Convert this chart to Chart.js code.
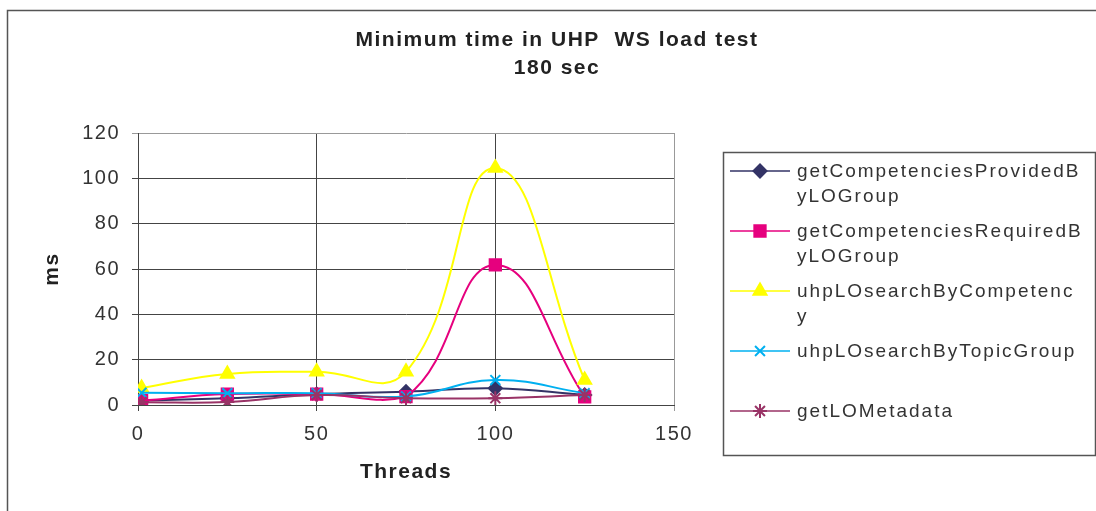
<!DOCTYPE html>
<html>
<head>
<meta charset="utf-8">
<script src="https://cdn.jsdelivr.net/npm/chart.js@4.4.1/dist/chart.umd.min.js"></script>
<style>
  html, body { margin: 0; padding: 0; background: #fff; }
</style>
</head>
<body>
<canvas id="myChart" width="1096" height="511"></canvas>
<script>
threads = [1, 25, 50, 75, 100, 125];

providedByLOGroup = [2, 3, 4.8, 5.9, 7.4, 4.4];
requiredByLOGroup = [1.9, 4.8, 4.8, 3.7, 61.8, 3.6];
searchByCompetency = [7.5, 13.7, 14.7, 14.7, 104.6, 11];
searchByTopicGroup = [5.4, 5.2, 5.2, 3.8, 11, 5.2];
loMetadata = [1.2, 1.3, 4.4, 3, 3, 4.4];

seriesNames = [
  "getCompetenciesProvidedByLOGroup",
  "getCompetenciesRequiredByLOGroup",
  "uhpLOsearchByCompetency",
  "uhpLOsearchByTopicGroup",
  "getLOMetadata"
];

titleLines = ["Minimum time in UHP  WS load test", "180 sec"];

const FONT = '"Liberation Sans", Arial, sans-serif';
const SPACING = '1.5px';

function points(ys) {
  return ys.map((y, i) => ({x: threads[i], y: y}));
}

// split a label into lines by characters, like the old excel legend
function wrapText(ctx, text, maxW) {
  const lines = [];
  let cur = '';
  for (const ch of text) {
    if (cur && ctx.measureText(cur + ch).width > maxW) {
      lines.push(cur);
      cur = ch;
    } else {
      cur += ch;
    }
  }
  lines.push(cur);
  return lines;
}

const frame = {
  id: 'frame',
  beforeLayout(chart) {
    chart.ctx.letterSpacing = SPACING;
  },
  beforeDraw(chart) {
    const ctx = chart.ctx;
    ctx.letterSpacing = SPACING;
    ctx.save();
    ctx.fillStyle = '#fff';
    ctx.fillRect(0, 0, chart.width, chart.height);
    ctx.strokeStyle = '#555';
    ctx.lineWidth = 1.5;
    ctx.strokeRect(7.5, 10.5, 1300, 700);
    ctx.restore();
  }
};

const legendBox = {
  id: 'legendBox',
  afterDraw(chart) {
    const ctx = chart.ctx;
    ctx.save();
    ctx.letterSpacing = '2px';
    ctx.strokeStyle = '#555';
    ctx.lineWidth = 1.5;
    ctx.strokeRect(723.5, 152.5, 372, 303);
    ctx.font = '19px ' + FONT;
    ctx.textBaseline = 'middle';
    ctx.textAlign = 'left';
    chart.data.datasets.forEach((ds, i) => {
      const y = 171 + i * 60;
      ctx.strokeStyle = ds.borderColor;
      ctx.fillStyle = ds.borderColor;
      ctx.lineWidth = 1.5;
      ctx.beginPath();
      ctx.moveTo(730, y);
      ctx.lineTo(790, y);
      ctx.stroke();
      ctx.lineWidth = 2;
      Chart.helpers.drawPoint(ctx, {
        pointStyle: ds.pointStyle,
        radius: ds.pointRadius,
        borderWidth: 2,
        rotation: 0
      }, 760, y);
      ctx.fillStyle = '#333';
      wrapText(ctx, ds.label, 287.3).forEach((line, k) => {
        ctx.fillText(line, 797, y + 1 + k * 25);
      });
    });
    ctx.restore();
  }
};

function makeChart() {
  const colors = ['#333366', '#E6007E', '#FFFF00', '#00B0F0', '#993366'];
  const styles = ['rectRot', 'rect', 'triangle', 'crossRot', 'star'];
  const radii = [6.5, 8, 7.5, 7, 7];
  const values = [providedByLOGroup, requiredByLOGroup, searchByCompetency, searchByTopicGroup, loMetadata];

  const datasets = values.map((v, i) => ({
    label: seriesNames[i],
    data: points(v),
    borderColor: colors[i],
    backgroundColor: colors[i],
    pointBackgroundColor: colors[i],
    pointBorderColor: colors[i],
    pointStyle: styles[i],
    pointRadius: radii[i],
    pointBorderWidth: 2,
    borderWidth: 2,
    tension: 0.45,
    fill: false,
    order: values.length - i
  }));

  const ctx = document.getElementById('myChart');
  new Chart(ctx, {
    type: 'line',
    data: { datasets: datasets },
    plugins: [frame, legendBox],
    options: {
      responsive: false,
      animation: false,
      devicePixelRatio: 1,
      layout: { padding: { left: 18, top: 0, right: 0, bottom: 0 } },
      plugins: {
        legend: { display: false },
        tooltip: { enabled: false },
        title: {
          display: true,
          text: titleLines,
          color: '#222',
          font: { family: FONT, size: 21, weight: 'bold', lineHeight: '28px' },
          padding: { top: 26, bottom: 51 }
        }
      },
      scales: {
        x: {
          type: 'linear',
          position: 'bottom',
          min: 0,
          max: 150,
          ticks: {
            stepSize: 50,
            color: '#333',
            padding: 11,
            font: { family: FONT, size: 20 }
          },
          grid: {
            color: c => c.tick && c.tick.value === 150 ? '#999' : '#444',
            lineWidth: 1,
            tickLength: 6
          },
          border: { color: '#444', width: 1 },
          title: {
            display: true,
            text: 'Threads',
            color: '#222',
            font: { family: FONT, size: 21, weight: 'bold', lineHeight: '24px' },
            padding: { top: 0, bottom: 27 }
          },
          afterFit(s) { s.height = 106; }
        },
        y: {
          position: 'left',
          min: 0,
          max: 120,
          ticks: {
            stepSize: 20,
            color: '#333',
            padding: 12,
            font: { family: FONT, size: 20 }
          },
          grid: {
            color: c => c.tick && c.tick.value === 120 ? '#999' : '#444',
            lineWidth: 1,
            tickLength: 6
          },
          border: { color: '#444', width: 1 },
          title: {
            display: true,
            text: 'ms',
            color: '#222',
            font: { family: FONT, size: 21, weight: 'bold', lineHeight: '24px' },
            padding: { top: 22, bottom: 0 }
          },
          afterFit(s) { s.width = 120; }
        },
        yRight: {
          type: 'linear',
          axis: 'y',
          position: 'right',
          display: true,
          grid: { display: false },
          border: { display: false },
          ticks: { display: false },
          afterFit(s) { s.width = 422; }
        }
      }
    }
  });
}

makeChart();
</script>
</body>
</html>
